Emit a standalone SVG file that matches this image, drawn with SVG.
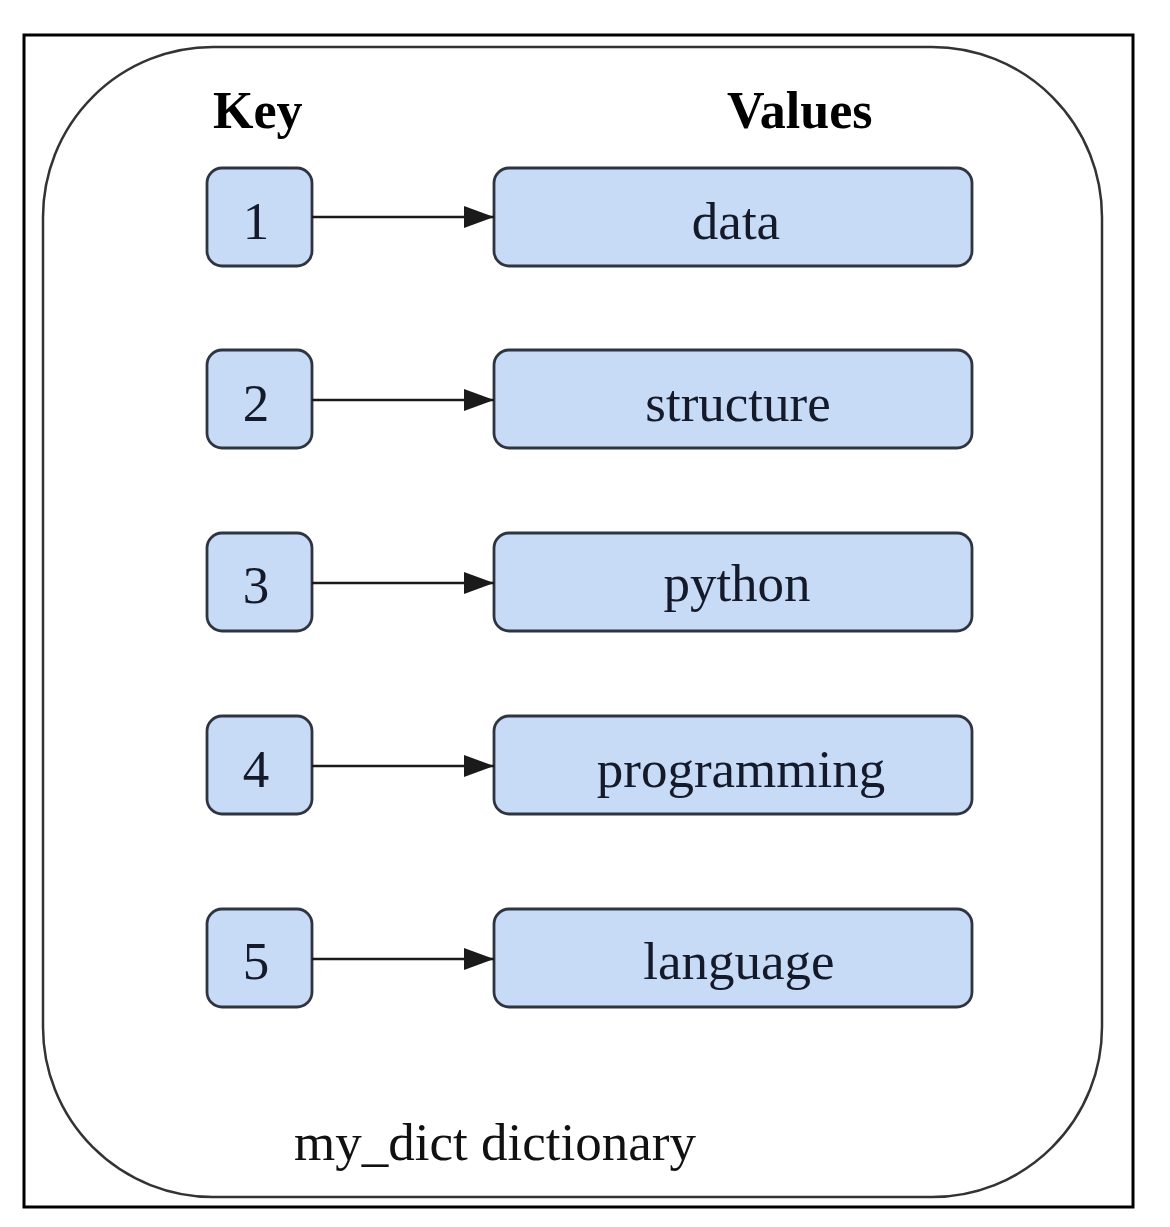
<svg xmlns="http://www.w3.org/2000/svg" width="1170" height="1227" viewBox="0 0 1170 1227">
<defs>
<style>
.node rect{fill:#c7daf6;stroke:#2e3440;stroke-width:2.8}
.lbl{font-family:"Liberation Serif","Times New Roman",serif;font-size:53px;fill:#141a2a;text-anchor:middle}
.cap{font-family:"Liberation Serif","Times New Roman",serif;font-size:53px;fill:#111;text-anchor:middle}
.hdr{font-family:"Liberation Serif","Times New Roman",serif;font-size:52px;font-weight:bold;fill:#000}
.edge{stroke:#1a1a1a;stroke-width:2.5;fill:none;marker-end:url(#ah)}
</style>
<marker id="ah" markerWidth="32" markerHeight="24" refX="30" refY="11" orient="auto" markerUnits="userSpaceOnUse">
<path d="M0,0 L30,11 L0,22 Z" fill="#1a1a1a"/>
</marker>
</defs>
<rect x="0" y="0" width="1170" height="1227" fill="#fff"/>
<rect x="24" y="35" width="1109" height="1172" fill="#fff" stroke="#000" stroke-width="3"/>
<g id="container">
<rect x="43" y="47" width="1059" height="1150" rx="170" ry="170" fill="none" stroke="#333" stroke-width="2.5"/>
<text class="cap" x="495" y="1160">my_dict dictionary</text>
</g>
<text class="hdr" x="213" y="128">Key</text>
<text class="hdr" x="727" y="128">Values</text>
<g id="k1" class="node"><rect x="207" y="168" width="105" height="98" rx="15"/><text class="lbl" x="256" y="239">1</text></g>
<g id="k2" class="node"><rect x="207" y="350" width="105" height="98" rx="15"/><text class="lbl" x="256" y="421">2</text></g>
<g id="k3" class="node"><rect x="207" y="533" width="105" height="98" rx="15"/><text class="lbl" x="256" y="603">3</text></g>
<g id="k4" class="node"><rect x="207" y="716" width="105" height="98" rx="15"/><text class="lbl" x="256" y="787">4</text></g>
<g id="k5" class="node"><rect x="207" y="909" width="105" height="98" rx="15"/><text class="lbl" x="256" y="979">5</text></g>
<g id="v1" class="node"><rect x="494" y="168" width="478" height="98" rx="15"/><text class="lbl" x="736" y="239">data</text></g>
<g id="v2" class="node"><rect x="494" y="350" width="478" height="98" rx="15"/><text class="lbl" x="738" y="421">structure</text></g>
<g id="v3" class="node"><rect x="494" y="533" width="478" height="98" rx="15"/><text class="lbl" x="737" y="601">python</text></g>
<g id="v4" class="node"><rect x="494" y="716" width="478" height="98" rx="15"/><text class="lbl" x="741" y="787">programming</text></g>
<g id="v5" class="node"><rect x="494" y="909" width="478" height="98" rx="15"/><text class="lbl" x="739" y="979">language</text></g>
<g id="connectors">
<line class="edge" x1="312" y1="217" x2="494" y2="217"/>
<line class="edge" x1="312" y1="400" x2="494" y2="400"/>
<line class="edge" x1="312" y1="583" x2="494" y2="583"/>
<line class="edge" x1="312" y1="766" x2="494" y2="766"/>
<line class="edge" x1="312" y1="959" x2="494" y2="959"/>
</g>
</svg>
